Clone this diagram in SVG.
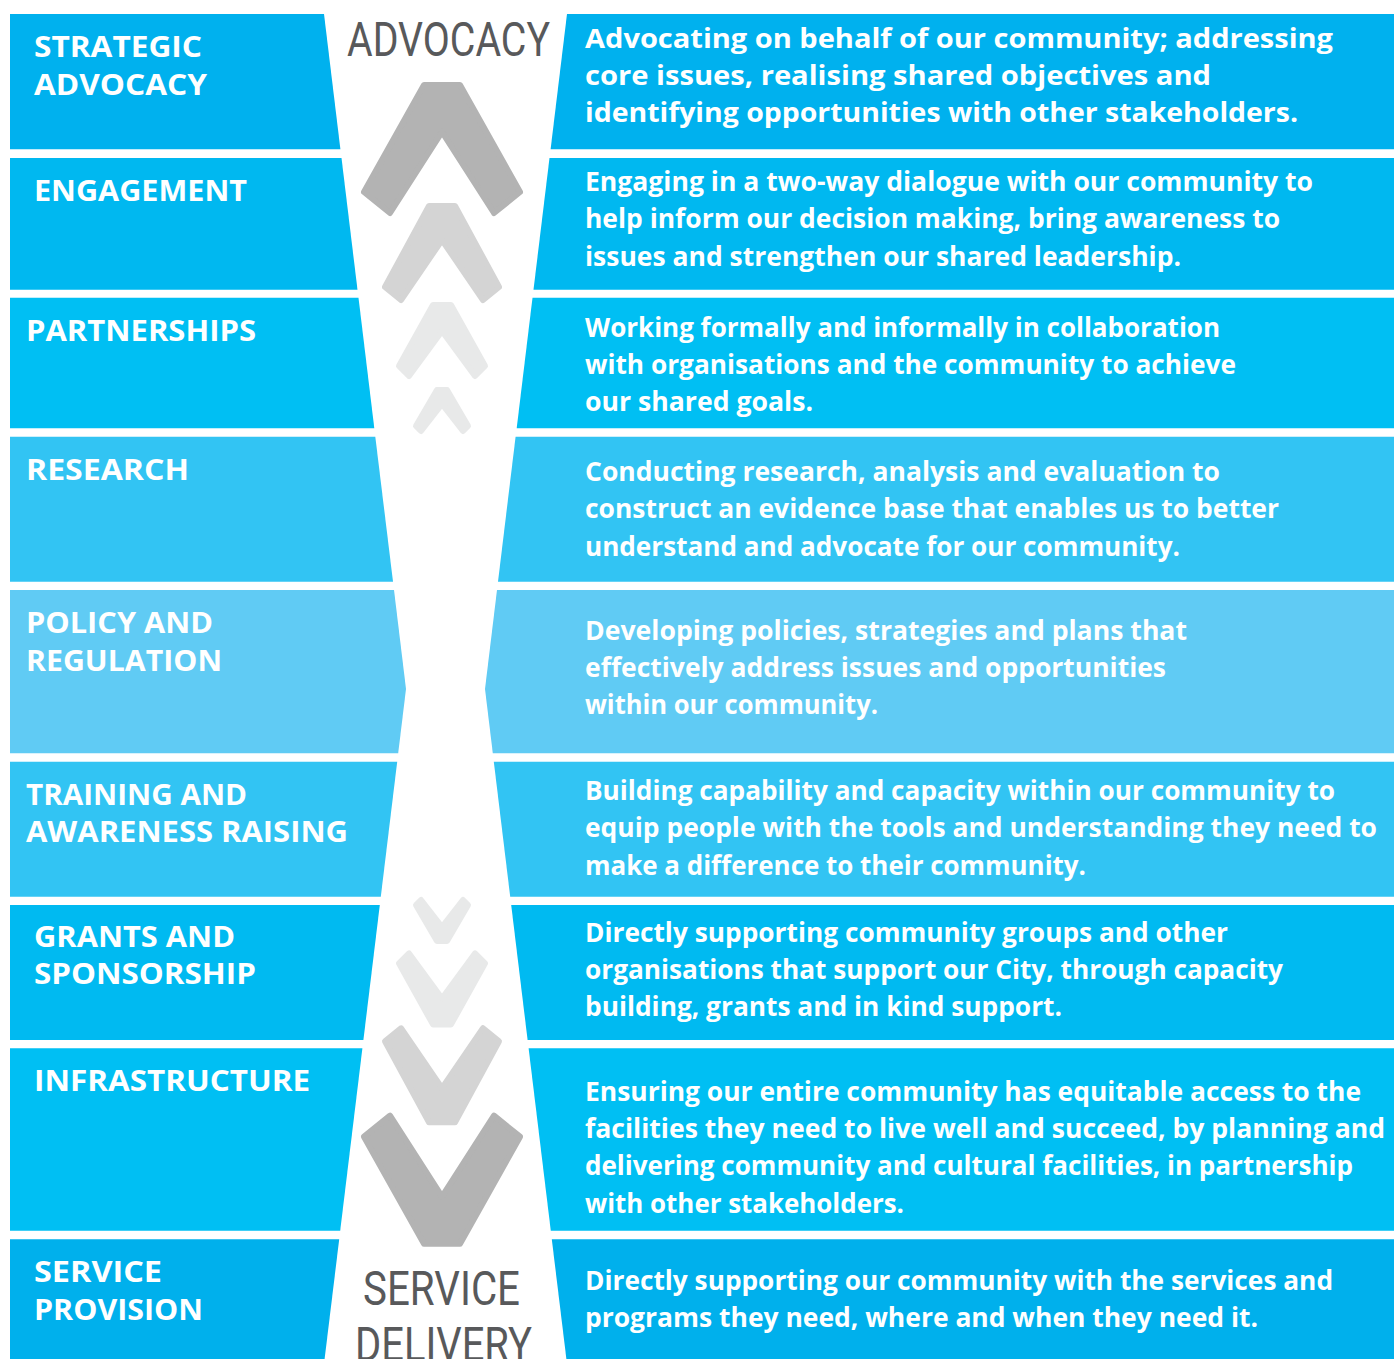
<svg xmlns="http://www.w3.org/2000/svg" width="1394" height="1359" viewBox="0 0 1394 1359">
<style>
.lbl{font-family:"Open Sans","Liberation Sans",sans-serif;font-weight:700;font-size:28px;fill:#fff}
.desc{font-family:"Open Sans","Liberation Sans",sans-serif;font-weight:700;font-size:26px;fill:#fff}
.title{font-family:Roboto,"Liberation Sans",sans-serif;font-weight:400;font-size:48px;fill:#58595b}
.chev{stroke-linejoin:round;stroke-width:6}
.c1{fill:#b3b3b3;stroke:#b3b3b3}
.c2{fill:#d4d4d4;stroke:#d4d4d4}
.c3{fill:#e8e9e9;stroke:#e8e9e9}
</style>
<defs>
<polygon id="chev1" points="424,85 460,85 520,192 494,213 442,132 390,213 364,192"/>
<polygon id="chev2" points="429,206 455,206 499,287 483,300 442,240 401,300 385,287"/>
<polygon id="chev3" points="433,305 451,305 485,366 475,376 442,331 409,376 399,366"/>
<polygon id="chev4" points="437,390 447,390 468,426 463,431 442,404 421,431 416,426"/>
</defs>
<rect width="1394" height="1359" fill="#fff"/>

<g id="band-1">
<polygon points="10,14 324,14 340.4,149.3 10,149.3" fill="#00b1ee"/>
<polygon points="567,14 1394,14 1394,149.3 550.6,149.3" fill="#00b1ee"/>
<text class="lbl" x="34" y="57" textLength="168" lengthAdjust="spacingAndGlyphs">STRATEGIC</text>
<text class="lbl" x="34" y="95" textLength="173" lengthAdjust="spacingAndGlyphs">ADVOCACY</text>
<text class="desc" x="585" y="48" textLength="748" lengthAdjust="spacingAndGlyphs">Advocating on behalf of our community; addressing</text>
<text class="desc" x="585" y="85" textLength="626" lengthAdjust="spacingAndGlyphs">core issues, realising shared objectives and</text>
<text class="desc" x="585" y="122" textLength="713" lengthAdjust="spacingAndGlyphs">identifying opportunities with other stakeholders.</text>
</g>

<g id="band-2">
<polygon points="10,158 341.5,158 357.5,289.7 10,289.7" fill="#00b8f0"/>
<polygon points="549.5,158 1394,158 1394,289.7 533.5,289.7" fill="#00b8f0"/>
<text class="lbl" x="34" y="201" textLength="213" lengthAdjust="spacingAndGlyphs">ENGAGEMENT</text>
<text class="desc" x="585" y="191" textLength="728" lengthAdjust="spacingAndGlyphs">Engaging in a two-way dialogue with our community to</text>
<text class="desc" x="585" y="228" textLength="695" lengthAdjust="spacingAndGlyphs">help inform our decision making, bring awareness to</text>
<text class="desc" x="585" y="266" textLength="596" lengthAdjust="spacingAndGlyphs">issues and strengthen our shared leadership.</text>
</g>

<g id="band-3">
<polygon points="10,297.7 358.5,297.7 374.3,428.3 10,428.3" fill="#00bff3"/>
<polygon points="532.5,297.7 1394,297.7 1394,428.3 516.7,428.3" fill="#00bff3"/>
<text class="lbl" x="26" y="341" textLength="230" lengthAdjust="spacingAndGlyphs">PARTNERSHIPS</text>
<text class="desc" x="585" y="337" textLength="635" lengthAdjust="spacingAndGlyphs">Working formally and informally in collaboration</text>
<text class="desc" x="585" y="374" textLength="651" lengthAdjust="spacingAndGlyphs">with organisations and the community to achieve</text>
<text class="desc" x="585" y="411" textLength="228" lengthAdjust="spacingAndGlyphs">our shared goals.</text>
</g>

<g id="band-4">
<polygon points="10,436.7 375.3,436.7 393,581.7 10,581.7" fill="#32c4f3"/>
<polygon points="515.6,436.7 1394,436.7 1394,581.7 498,581.7" fill="#32c4f3"/>
<text class="lbl" x="26" y="480" textLength="163" lengthAdjust="spacingAndGlyphs">RESEARCH</text>
<text class="desc" x="585" y="481" textLength="635" lengthAdjust="spacingAndGlyphs">Conducting research, analysis and evaluation to</text>
<text class="desc" x="585" y="518" textLength="694" lengthAdjust="spacingAndGlyphs">construct an evidence base that enables us to better</text>
<text class="desc" x="585" y="556" textLength="595" lengthAdjust="spacingAndGlyphs">understand and advocate for our community.</text>
</g>

<g id="band-5">
<polygon points="10,590 394,590 406,689 398.2,753.3 10,753.3" fill="#60cbf4"/>
<polygon points="497,590 1394,590 1394,753.3 492.8,753.3 485,689" fill="#60cbf4"/>
<text class="lbl" x="26" y="633" textLength="187" lengthAdjust="spacingAndGlyphs">POLICY AND</text>
<text class="lbl" x="26" y="671" textLength="196" lengthAdjust="spacingAndGlyphs">REGULATION</text>
<text class="desc" x="585" y="640" textLength="602" lengthAdjust="spacingAndGlyphs">Developing policies, strategies and plans that</text>
<text class="desc" x="585" y="677" textLength="581" lengthAdjust="spacingAndGlyphs">effectively address issues and opportunities</text>
<text class="desc" x="585" y="714" textLength="293" lengthAdjust="spacingAndGlyphs">within our community.</text>
</g>

<g id="band-6">
<polygon points="10,761.7 397.2,761.7 380.8,896.7 10,896.7" fill="#32c4f3"/>
<polygon points="493.8,761.7 1394,761.7 1394,896.7 510.2,896.7" fill="#32c4f3"/>
<text class="lbl" x="26" y="805" textLength="221" lengthAdjust="spacingAndGlyphs">TRAINING AND</text>
<text class="lbl" x="26" y="842" textLength="322" lengthAdjust="spacingAndGlyphs">AWARENESS RAISING</text>
<text class="desc" x="585" y="800" textLength="750" lengthAdjust="spacingAndGlyphs">Building capability and capacity within our community to</text>
<text class="desc" x="585" y="837" textLength="792" lengthAdjust="spacingAndGlyphs">equip people with the tools and understanding they need to</text>
<text class="desc" x="585" y="875" textLength="501" lengthAdjust="spacingAndGlyphs">make a difference to their community.</text>
</g>

<g id="band-7">
<polygon points="10,905 379.8,905 363.4,1040 10,1040" fill="#00baf1"/>
<polygon points="511.2,905 1394,905 1394,1040 527.6,1040" fill="#00baf1"/>
<text class="lbl" x="34" y="947" textLength="201" lengthAdjust="spacingAndGlyphs">GRANTS AND</text>
<text class="lbl" x="34" y="984" textLength="222" lengthAdjust="spacingAndGlyphs">SPONSORSHIP</text>
<text class="desc" x="585" y="942" textLength="643" lengthAdjust="spacingAndGlyphs">Directly supporting community groups and other</text>
<text class="desc" x="585" y="979" textLength="698" lengthAdjust="spacingAndGlyphs">organisations that support our City, through capacity</text>
<text class="desc" x="585" y="1016" textLength="477" lengthAdjust="spacingAndGlyphs">building, grants and in kind support.</text>
</g>

<g id="band-8">
<polygon points="10,1048.3 362.4,1048.3 340.2,1230.7 10,1230.7" fill="#00bff3"/>
<polygon points="528.6,1048.3 1394,1048.3 1394,1230.7 550.8,1230.7" fill="#00bff3"/>
<text class="lbl" x="34" y="1091" textLength="276" lengthAdjust="spacingAndGlyphs">INFRASTRUCTURE</text>
<text class="desc" x="585" y="1101" textLength="776" lengthAdjust="spacingAndGlyphs">Ensuring our entire community has equitable access to the</text>
<text class="desc" x="585" y="1138" textLength="800" lengthAdjust="spacingAndGlyphs">facilities they need to live well and succeed, by planning and</text>
<text class="desc" x="585" y="1175" textLength="768" lengthAdjust="spacingAndGlyphs">delivering community and cultural facilities, in partnership</text>
<text class="desc" x="585" y="1213" textLength="319" lengthAdjust="spacingAndGlyphs">with other stakeholders.</text>
</g>

<g id="band-9">
<polygon points="10,1239.3 339.2,1239.3 324.6,1359 10,1359" fill="#00b0ec"/>
<polygon points="551.8,1239.3 1394,1239.3 1394,1359 566.4,1359" fill="#00b0ec"/>
<text class="lbl" x="34" y="1282" textLength="128" lengthAdjust="spacingAndGlyphs">SERVICE</text>
<text class="lbl" x="34" y="1320" textLength="169" lengthAdjust="spacingAndGlyphs">PROVISION</text>
<text class="desc" x="585" y="1290" textLength="748" lengthAdjust="spacingAndGlyphs">Directly supporting our community with the services and</text>
<text class="desc" x="585" y="1327" textLength="673" lengthAdjust="spacingAndGlyphs">programs they need, where and when they need it.</text>
</g>

<g id="chevrons">
<use href="#chev1" class="chev c1"/>
<use href="#chev2" class="chev c2"/>
<use href="#chev3" class="chev c3"/>
<use href="#chev4" class="chev c3"/>
<use href="#chev4" class="chev c3" transform="translate(0,1331) scale(1,-1)"/>
<use href="#chev3" class="chev c3" transform="translate(0,1329.4) scale(1,-1)"/>
<use href="#chev2" class="chev c2" transform="translate(0,1328.3) scale(1,-1)"/>
<use href="#chev1" class="chev c1" transform="translate(0,1328.7) scale(1,-1)"/>
</g>

<g id="title-advocacy">
<text class="title" x="347" y="56" textLength="203" lengthAdjust="spacingAndGlyphs">ADVOCACY</text>
</g>
<g id="title-service-delivery">
<text class="title" x="363" y="1305" textLength="157" lengthAdjust="spacingAndGlyphs">SERVICE</text>
<text class="title" x="355" y="1361" textLength="177" lengthAdjust="spacingAndGlyphs">DELIVERY</text>
</g>
</svg>
